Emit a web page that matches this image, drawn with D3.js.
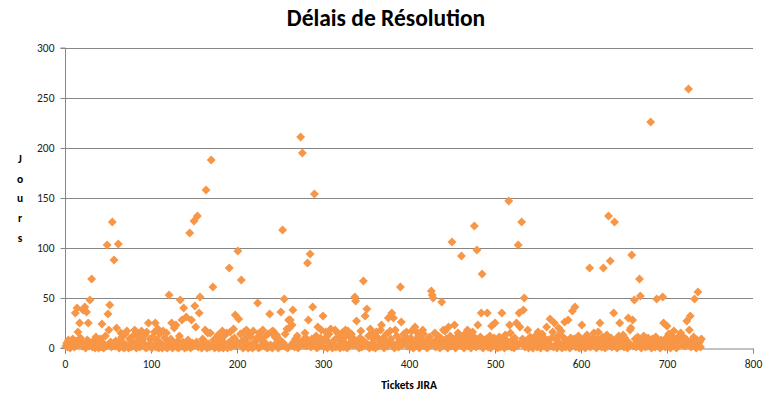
<!DOCTYPE html>
<html>
<head>
<meta charset="utf-8">
<script src="https://cdn.jsdelivr.net/npm/d3@7"></script>
<style>
  body { margin: 0; background: #fff; }
  svg { display: block; }
</style>
</head>
<body>
<svg id="chart"></svg>
<script>
const title = "Délais de Résolution"
const xLabel = "Tickets JIRA"
const yLabel = "Jours"
const xTicks = [0, 100, 200, 300, 400, 500, 600, 700, 800]
const yTicks = [0, 50, 100, 150, 200, 250, 300]

// days to resolve, one value per ticket (ticket 1 .. 740)
const delais = [
  2,5,1,8,3,0,6,2,9,4,1,35,7,40,16,3,25,10,6,2,
  38,4,41,0,36,8,25,2,48,5,69,1,7,3,0,11,2,6,0,4,
  9,1,24,5,0,3,12,2,103,34,18,43,6,1,126,4,88,2,7,20,
  3,104,0,8,15,11,1,5,0,14,3,17,2,0,9,4,1,6,12,3,
  18,2,0,7,14,10,1,3,17,8,5,2,13,0,16,1,25,4,9,2,
  0,11,3,16,25,1,8,19,0,14,5,3,0,17,2,10,1,15,0,6,
  53,2,9,25,0,5,20,3,23,1,7,0,12,48,2,28,6,40,0,4,
  31,1,8,3,115,0,28,5,2,127,42,21,6,132,1,35,51,3,0,9,
  2,7,18,158,0,15,4,1,15,188,3,61,8,0,5,2,11,13,0,6,
  1,9,17,0,12,4,2,15,0,5,80,16,1,8,3,19,10,33,2,6,
  97,29,4,14,68,7,0,16,9,2,18,5,0,13,1,11,3,0,17,4,
  2,7,10,45,0,15,1,9,3,18,6,2,12,4,0,14,1,34,3,16,
  0,17,2,11,4,13,6,0,9,3,36,2,118,5,49,14,1,19,0,28,
  20,28,3,23,38,6,1,9,4,12,0,7,2,211,5,195,8,3,15,10,
  2,85,28,6,94,1,9,41,4,154,3,12,0,21,7,2,10,18,5,32,
  1,8,16,11,0,6,14,2,19,4,0,7,3,18,1,10,15,2,13,0,
  6,15,9,1,12,18,4,0,17,2,11,5,14,7,3,9,51,47,27,2,
  6,0,10,17,1,8,67,3,32,5,39,2,12,0,19,4,15,1,9,3,
  0,16,11,2,8,4,18,23,5,10,0,7,3,14,2,30,6,17,9,35,
  4,30,0,18,2,12,5,1,7,61,26,3,9,14,6,11,16,2,8,4,
  1,10,17,7,0,5,21,2,9,15,12,0,6,3,8,18,14,5,2,7,
  0,9,4,11,3,57,53,50,6,15,1,8,2,12,5,0,10,46,3,18,
  7,17,9,4,0,21,6,12,2,106,5,8,23,0,3,11,15,7,4,10,
  92,2,6,0,14,9,3,18,8,5,12,0,7,16,4,122,10,1,98,23,
  6,3,11,35,74,0,8,2,5,9,35,1,4,12,0,22,7,3,10,25,
  2,8,0,5,11,1,6,35,3,9,0,13,4,7,2,147,23,15,1,8,
  4,0,10,6,25,2,103,35,21,5,126,9,38,50,1,7,3,18,0,6,
  11,2,5,0,8,3,12,8,1,16,4,9,0,7,14,11,3,5,1,21,
  0,8,4,29,2,10,16,1,25,3,9,0,12,20,5,2,17,0,11,4,
  26,1,8,3,28,6,0,10,2,37,5,9,41,1,7,3,12,0,4,8,
  23,2,9,5,0,11,13,3,6,80,1,8,4,10,15,2,7,0,9,16,
  3,25,6,1,11,80,4,0,8,13,2,132,5,87,10,1,7,35,126,3,
  9,0,6,12,25,2,8,4,13,1,10,3,7,0,30,5,18,20,93,28,
  2,48,9,1,6,11,4,69,52,0,8,3,12,5,1,7,2,10,4,6,
  226,0,9,3,5,1,11,49,2,7,4,0,8,3,51,25,6,1,10,22,
  4,14,8,0,6,11,3,17,9,5,0,7,2,12,4,15,8,3,6,10,
  2,9,27,4,259,18,32,1,7,3,11,49,5,0,8,56,2,6,1,9
]

const config = {
    width: 769,
    height: 396,
    margin: { top: 48, right: 16, bottom: 48, left: 65 },
    colors: { marker: "#F79646", grid: "#868686", text: "#000" },
    font: "Carlito, 'Open Sans', 'Liberation Sans', sans-serif"
}

const svg = d3.select("#chart")
    .attr("width", config.width)
    .attr("height", config.height)
    .style("font-family", config.font)

const plotW = config.width - config.margin.left - config.margin.right   // 688
const plotH = config.height - config.margin.top - config.margin.bottom  // 300

const x = d3.scaleLinear().domain([0, 800]).range([0, plotW])
const y = d3.scaleLinear().domain([0, 300]).range([plotH, 0])

const g = svg.append("g")
    .attr("transform", `translate(${config.margin.left},${config.margin.top})`)

// horizontal gridlines
g.selectAll("line.grid")
    .data(yTicks.filter(d => d > 0))
    .join("line")
    .attr("class", "grid")
    .attr("x1", 0).attr("x2", plotW)
    .attr("y1", d => Math.round(y(d)) + 0.5).attr("y2", d => Math.round(y(d)) + 0.5)
    .style("stroke", config.colors.grid)
    .style("stroke-width", 1)

// y axis
const yAxis = g.append("g")
    .attr("transform", "translate(0.5,0)")
    .call(d3.axisLeft(y).tickValues(yTicks).tickSize(5).tickPadding(6))
yAxis.selectAll("path, line").style("stroke", config.colors.grid)
yAxis.selectAll("text").style("font-size", "11.5px").style("fill", "#222").style("font-family", config.font)
yAxis.select(".domain").attr("d", `M-5,${plotH}H0V0H-5`)

// x axis
const xAxis = g.append("g")
    .attr("transform", `translate(0,${plotH + 0.5})`)
    .call(d3.axisBottom(x).tickValues(xTicks).tickSize(5).tickPadding(6))
xAxis.selectAll("path, line").style("stroke", config.colors.grid)
xAxis.selectAll("text").style("font-size", "11.5px").style("fill", "#222").style("font-family", config.font)

// points
const diamond = d3.symbol().type(d3.symbolSquare).size(40)
g.selectAll("path.pt")
    .data(delais)
    .join("path")
    .attr("class", "pt")
    .attr("d", diamond)
    .attr("transform", (d, i) => `translate(${x(i + 1)},${y(d)}) rotate(45)`)
    .style("fill", config.colors.marker)

// title
svg.append("text")
    .text(title)
    .attr("x", 386).attr("y", 26)
    .attr("text-anchor", "middle")
    .style("font-size", "23.5px")
    .style("font-weight", "bold")

// x label
svg.append("text")
    .text(xLabel)
    .attr("x", config.margin.left + plotW / 2).attr("y", 389)
    .attr("text-anchor", "middle")
    .style("font-size", "11.5px")
    .style("font-weight", "bold")

// y label, stacked letters
svg.append("g").selectAll("text")
    .data(yLabel.split(""))
    .join("text")
    .text(d => d)
    .attr("x", 20).attr("y", (d, i) => 163 + i * 19.7)
    .attr("text-anchor", "middle")
    .style("font-size", "11.5px")
    .style("font-weight", "bold")
</script>
</body>
</html>
